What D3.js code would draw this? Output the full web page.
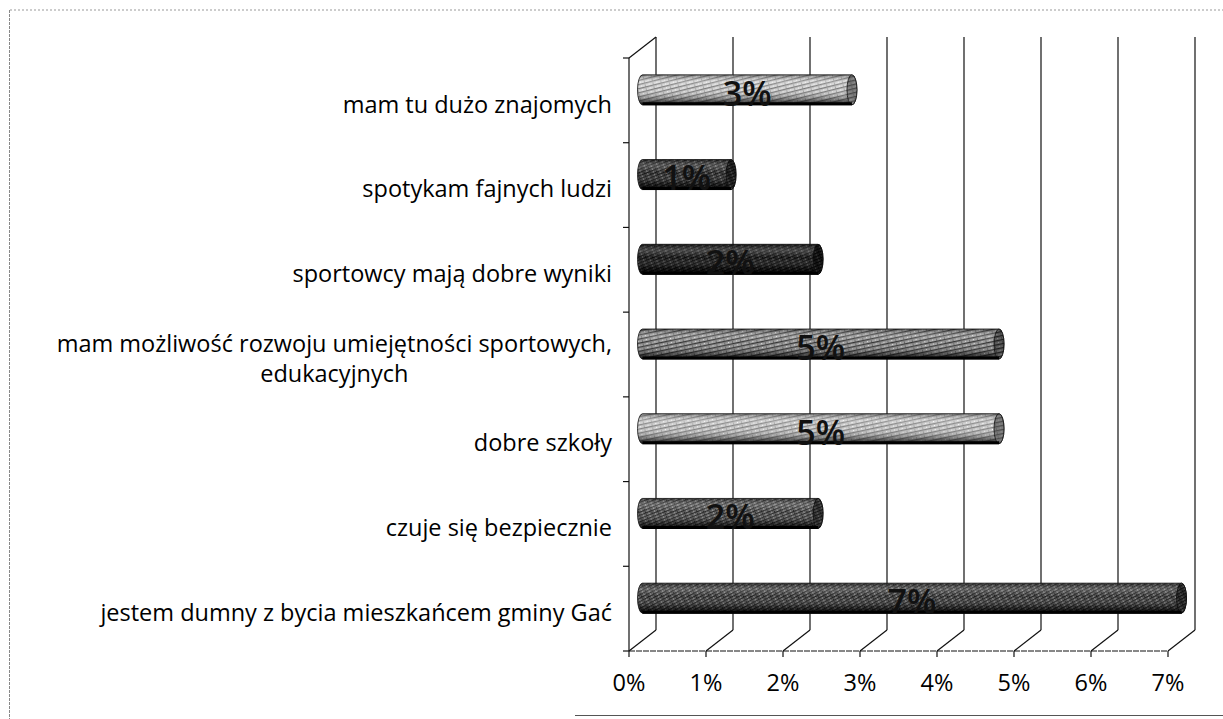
<!DOCTYPE html>
<html lang="pl">
<head>
    <meta charset="UTF-8">
    <title>Wykres</title>
    <script src="https://d3js.org/d3.v7.min.js"></script>
    <style>
        body { margin: 0; background: #fff; }
        svg { display: block; font-family: "Open Sans", sans-serif; }
    </style>
</head>
<body>
    <div id="chart"></div>
    <script>
        // Data
        const categories = [
            "mam tu dużo znajomych",
            "spotykam fajnych ludzi",
            "sportowcy mają dobre wyniki",
            "mam możliwość rozwoju umiejętności sportowych, edukacyjnych",
            "dobre szkoły ",
            "czuje się bezpiecznie",
            "jestem dumny z bycia mieszkańcem gminy Gać"
        ];
        const labelLines = [
            ["mam tu dużo znajomych"],
            ["spotykam fajnych ludzi"],
            ["sportowcy mają dobre wyniki"],
            ["mam możliwość rozwoju umiejętności sportowych,", "edukacyjnych"],
            ["dobre szkoły "],
            ["czuje się bezpiecznie"],
            ["jestem dumny z bycia mieszkańcem gminy Gać"]
        ];
        const values = [2.72, 1.15, 2.28, 4.63, 4.63, 2.28, 7.0];
        const valueLabels = ["3%", "1%", "2%", "5%", "5%", "2%", "7%"];
        const tickValues = [0, 1, 2, 3, 4, 5, 6, 7];
        const tickLabels = ["0%", "1%", "2%", "3%", "4%", "5%", "6%", "7%"];

        // Bar looks (scanned gray hatches)
        const barStyles = [
            { base: "#d4d4d4", line: "#7a7a7a", dot: "#fff", gap: 4, angle: -14 },
            { base: "#4a4a4a", line: "#151515", dot: "#aaa", gap: 3, angle: -22 },
            { base: "#2e2e2e", line: "#080808", dot: "#777", gap: 3, angle: -22 },
            { base: "#9c9c9c", line: "#333", dot: "#e5e5e5", gap: 4, angle: -12 },
            { base: "#cdcdcd", line: "#808080", dot: "#fff", gap: 4, angle: -12 },
            { base: "#6c6c6c", line: "#262626", dot: "#c0c0c0", gap: 3, angle: -22 },
            { base: "#5c5c5c", line: "#1e1e1e", dot: "#b5b5b5", gap: 3, angle: -28 }
        ];

        const W = 1223, H = 719;
        const dx = 27, dy = -21;          // depth offset of the back wall
        const barH = 30, capR = 5;

        const svg = d3.select("#chart").append("svg")
            .attr("width", W).attr("height", H);

        const x = d3.scaleLinear().domain([0, 7]).range([629, 1168]);
        const y = d3.scaleBand().domain(categories).range([58, 651]);

        const defs = svg.append("defs");
        barStyles.forEach((s, i) => {
            const p = defs.append("pattern")
                .attr("id", "pat" + i)
                .attr("patternUnits", "userSpaceOnUse")
                .attr("width", s.gap * 2).attr("height", s.gap)
                .attr("patternTransform", `rotate(${s.angle})`);
            p.append("rect").attr("width", s.gap * 2).attr("height", s.gap).attr("fill", s.base);
            p.append("rect").attr("y", 0).attr("width", s.gap * 2).attr("height", 1.3).attr("fill", s.line);
            p.append("rect").attr("x", 1).attr("y", s.gap / 2).attr("width", 1).attr("height", 1).attr("fill", s.dot);
            p.append("rect").attr("x", s.gap + 1).attr("y", s.gap / 2 + 0.5).attr("width", 1).attr("height", 1).attr("fill", s.line);
        });

        const shade = defs.append("linearGradient")
            .attr("id", "shade").attr("x1", 0).attr("y1", 0).attr("x2", 0).attr("y2", 1);
        [[0, "#000", 0.35], [0.22, "#fff", 0.2], [0.45, "#fff", 0.0], [0.78, "#000", 0.3], [1, "#000", 0.9]]
            .forEach(([o, c, a]) => shade.append("stop").attr("offset", o).attr("stop-color", c).attr("stop-opacity", a));

        // Frame
        svg.append("line").attr("x1", 10).attr("x2", W).attr("y1", 10).attr("y2", 10)
            .attr("stroke", "#999").attr("stroke-dasharray", "2,2");
        svg.append("line").attr("x1", 9.5).attr("x2", 9.5).attr("y1", 10).attr("y2", H)
            .attr("stroke", "#888").attr("stroke-dasharray", "3,1");
        svg.append("line").attr("x1", 575).attr("x2", W).attr("y1", 715.5).attr("y2", 715.5)
            .attr("stroke", "#555");

        const grid = svg.append("g").attr("stroke", "#111").attr("fill", "none").attr("stroke-width", 1.2);

        // Back wall vertical gridlines and floor diagonals
        tickValues.forEach(t => {
            const fx = x(t), bx = x(t) + dx;
            grid.append("line").attr("x1", bx).attr("x2", bx).attr("y1", 58 + dy).attr("y2", 651 + dy);
            grid.append("line").attr("x1", fx).attr("x2", bx).attr("y1", 651).attr("y2", 651 + dy);
            grid.append("line").attr("x1", fx).attr("x2", fx).attr("y1", 651).attr("y2", 657);
        });

        // Left wall
        grid.append("line").attr("x1", x(0)).attr("x2", x(0)).attr("y1", 58).attr("y2", 651);
        grid.append("line").attr("x1", x(0)).attr("x2", x(0) + dx).attr("y1", 58).attr("y2", 58 + dy);
        // Floor front edge
        grid.append("line").attr("x1", x(0)).attr("x2", x(7)).attr("y1", 651).attr("y2", 651)
            .attr("stroke-width", 1).attr("stroke-dasharray", "6,1");
        // Category ticks on the left wall
        y.domain().concat([null]).forEach(c => {
            const yy = c === null ? 651 : y(c);
            grid.append("line").attr("x1", x(0) - 6).attr("x2", x(0)).attr("y1", yy).attr("y2", yy);
        });

        // Bars as horizontal cylinders
        const bars = svg.append("g");
        categories.forEach((c, i) => {
            const yc = y(c) + y.bandwidth() / 2 + dy / 2;
            const x0 = x(0) + dx / 2, x1 = x(values[i]) + dx / 2;
            const top = yc - barH / 2, bot = yc + barH / 2;
            const body = `M${x0},${top} L${x1},${top} A${capR},${barH / 2} 0 0 1 ${x1},${bot} L${x0},${bot} A${capR},${barH / 2} 0 0 1 ${x0},${top} Z`;
            bars.append("path").attr("d", body).attr("fill", `url(#pat${i})`);
            bars.append("path").attr("d", body).attr("fill", "url(#shade)")
                .attr("stroke", "#111").attr("stroke-width", 0.8);
            bars.append("ellipse").attr("cx", x1).attr("cy", yc).attr("rx", capR).attr("ry", barH / 2)
                .attr("fill", `url(#pat${i})`).attr("stroke", "#111").attr("stroke-width", 0.8);
            bars.append("ellipse").attr("cx", x1).attr("cy", yc).attr("rx", capR).attr("ry", barH / 2)
                .attr("fill", "#000").attr("opacity", 0.4);
            bars.append("line").attr("x1", x0).attr("x2", x1).attr("y1", bot - 1).attr("y2", bot - 1)
                .attr("stroke", "#000").attr("stroke-width", 3);

            bars.append("text")
                .attr("x", (x0 + x1) / 2).attr("y", yc + 4)
                .attr("dy", "0.35em")
                .attr("text-anchor", "middle")
                .attr("font-size", 34)
                .attr("font-weight", 600)
                .attr("fill", "#111")
                .text(valueLabels[i]);
        });

        // Category labels
        const labels = svg.append("g").attr("font-size", 23.5).attr("fill", "#000");
        categories.forEach((c, i) => {
            const lines = labelLines[i];
            const yc = y(c) + y.bandwidth() / 2 + 4;
            const lineH = 30;
            const t = labels.append("text").attr("text-anchor", "end");
            if (lines.length === 1) {
                t.attr("x", 612).attr("y", yc).attr("dy", "0.35em").text(lines[0]);
            } else {
                t.attr("x", 612).attr("y", yc - lineH / 2).attr("dy", "0.35em").text(lines[0]);
                const w = t.node().getComputedTextLength();
                t.attr("text-anchor", "middle").attr("x", 612 - w / 2);
                labels.append("text").attr("text-anchor", "middle")
                    .attr("x", 612 - w / 2).attr("y", yc + lineH / 2).attr("dy", "0.35em")
                    .text(lines[1]);
            }
        });

        // Value axis labels
        svg.append("g").attr("font-size", 23.5).attr("text-anchor", "middle")
            .selectAll("text").data(tickValues).join("text")
            .attr("x", d => x(d)).attr("y", 683).attr("dy", "0.35em")
            .text((d, i) => tickLabels[i]);
    </script>
</body>
</html>
